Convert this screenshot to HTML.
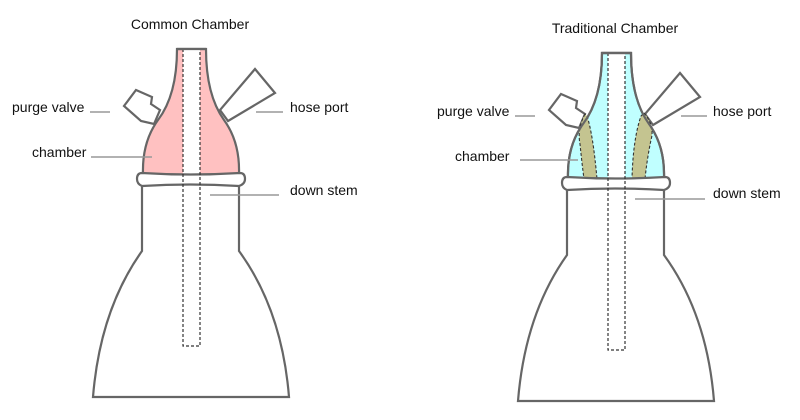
<!DOCTYPE html>
<html><head><meta charset="utf-8"><style>
html,body{margin:0;padding:0;background:#fff;}
svg{display:block;}
text{font-family:"Liberation Sans",sans-serif;font-size:14px;fill:#111;}
</style></head><body>
<svg width="800" height="420" viewBox="0 0 800 420" xmlns="http://www.w3.org/2000/svg">
<defs>
  <g id="base">
    <polygon points="136,90 152,97 151,104 160,110 154,124 141,121 124,106" fill="#fff" stroke="#666" stroke-width="2.2"/>
    <polygon points="255,69 275,93 228,121 220,110" fill="#fff" stroke="#666" stroke-width="2.2"/>
    <path d="M142,184 L142,251 Q100,310 93,397 L289,397 Q282,310 239,251 L239,184" fill="#fff" stroke="#666" stroke-width="2.2"/>
  </g>
  <path id="collar" d="M142,186 Q137,184 137,179 Q137,173 142,173 Q190,176 240,173 Q245,173 245,179 Q245,184 239,186 Q190,183 142,186 Z" fill="#fff" stroke="#666" stroke-width="2.2"/>
  <path id="chamber" d="M177,49 Q177,95 158,120 Q142,142 143,174 Q190,178 239,174 Q240,142 224,120 Q206,95 206,49 Z"/>
</defs>

<text x="190" y="29" text-anchor="middle">Common Chamber</text>
<text x="615" y="33" text-anchor="middle">Traditional Chamber</text>

<!-- LEFT -->
<use href="#base"/>
<use href="#chamber" fill="#ffc1c1" stroke="#666" stroke-width="2.2"/>
<rect x="183" y="49" width="17" height="125" fill="#fff"/>
<use href="#collar"/>
<rect x="183" y="49" width="17" height="297" fill="none" stroke="#333" stroke-width="1.2" stroke-dasharray="3,2"/>
<line x1="177" y1="49" x2="206" y2="49" stroke="#666" stroke-width="2.2"/>

<!-- RIGHT -->
<g transform="translate(425,4)">
<use href="#base"/>
<use href="#chamber" fill="#c0ffff" stroke="#666" stroke-width="2.2"/>
<path d="M160,110 Q152,125 155,140 Q157,160 159,175 L172,175 Q168,130 162,112 Z" fill="#c4c490" stroke="#333" stroke-width="1.1" stroke-dasharray="3,2"/>
<path d="M219,109 Q230,122 226,136 Q222,155 220,175 L207,175 Q208,135 216,112 Z" fill="#c4c490" stroke="#333" stroke-width="1.1" stroke-dasharray="3,2"/>
<rect x="183" y="49" width="17" height="125" fill="#fff"/>
<use href="#chamber" fill="none" stroke="#666" stroke-width="2.2"/>
<use href="#collar"/>
<rect x="183" y="49" width="17" height="297" fill="none" stroke="#333" stroke-width="1.2" stroke-dasharray="3,2"/>
<line x1="177" y1="49" x2="206" y2="49" stroke="#666" stroke-width="2.2"/>
</g>

<g stroke="#999" stroke-width="1.5">
<line x1="90" y1="112" x2="110" y2="112"/>
<line x1="91" y1="157" x2="152" y2="157"/>
<line x1="256" y1="112" x2="283" y2="112"/>
<line x1="210" y1="195" x2="279" y2="195"/>
<line x1="515" y1="116" x2="535" y2="116"/>
<line x1="520" y1="160" x2="578" y2="160"/>
<line x1="681" y1="116" x2="707" y2="116"/>
<line x1="635" y1="199" x2="705" y2="199"/>
</g>
<text x="12" y="112">purge valve</text>
<text x="32" y="157">chamber</text>
<text x="290" y="112">hose port</text>
<text x="290" y="195">down stem</text>
<text x="437" y="116">purge valve</text>
<text x="455" y="161">chamber</text>
<text x="713" y="116">hose port</text>
<text x="713" y="198">down stem</text>
</svg>
</body></html>
